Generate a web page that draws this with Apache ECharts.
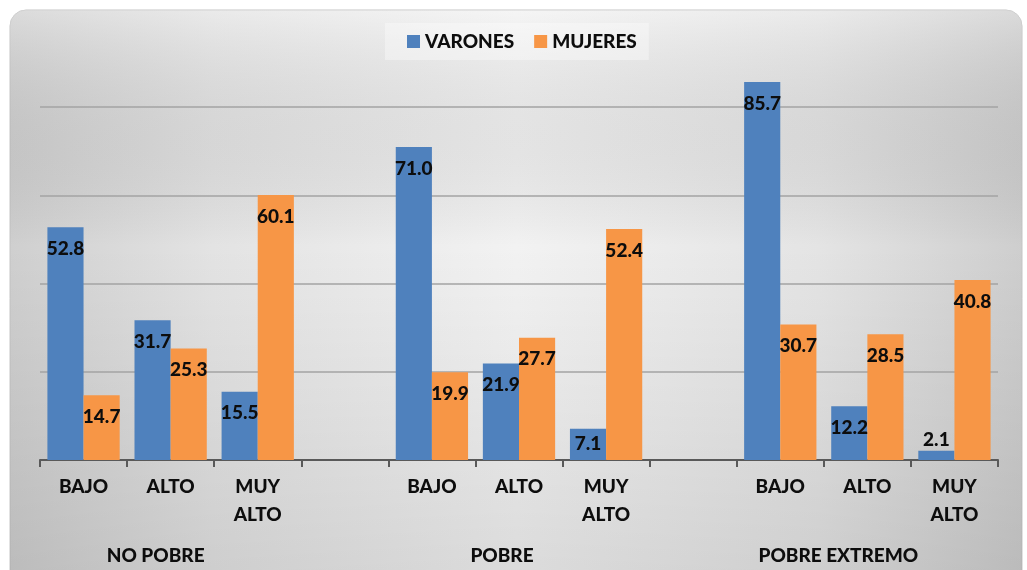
<!DOCTYPE html>
<html>
<head>
<meta charset="utf-8">
<script src="https://cdn.jsdelivr.net/npm/echarts@6/dist/echarts.min.js"></script>
<style>
  html, body { margin: 0; padding: 0; background: #fff; }
  #main { width: 1027px; height: 570px; }
</style>
</head>
<body>
<div id="main"></div>
<script>
// niveles por categoria (con huecos entre grupos)
var categorias = ['BAJO', 'ALTO', 'MUY\nALTO', '', 'BAJO', 'ALTO', 'MUY\nALTO', '', 'BAJO', 'ALTO', 'MUY\nALTO'];
var grupos = ['', 'NO POBRE', '', '', '', 'POBRE', '', '', '', 'POBRE EXTREMO', ''];
var varones = [52.8, 31.7, 15.5, null, 71.0, 21.9, 7.1, null, 85.7, 12.2, 2.1];
var mujeres = [14.7, 25.3, 60.1, null, 19.9, 27.7, 52.4, null, 30.7, 28.5, 40.8];

var FONT = 'Lato';
var azul = '#4F81BD';
var naranja = '#F79646';

// etiqueta dentro de la barra, salvo barras muy cortas
var build_data = function(arr) {
    return arr.map(function(v) {
        if (v == null) return null;
        let lbl = { position: 'insideTop' };
        if (v < 3) lbl = { position: 'top', distance: 1 };
        else if (v < 10) lbl = { position: 'inside' };
        return { value: v, label: lbl };
    });
}

var grupo_labels = grupos.map(function(g, i) {
    // desplazamiento hacia la izquierda como en el original
    let pad = [0, 0, 0, 0];
    if (i == 1) pad = [0, 30, 0, 0];
    if (i == 5) pad = [0, 34, 0, 0];
    if (i == 9) pad = [0, 58, 0, 0];
    return { value: g, textStyle: { padding: pad } };
});

var myChart = echarts.init(document.getElementById('main'));

var labelStyle = {
    show: true,
    distance: 12,
    color: '#0d0d0d',
    fontFamily: FONT,
    fontWeight: 900,
    fontSize: 19,
    formatter: function(p) { return p.value.toFixed(1); }
};

option = {
    animation: false,
    graphic: [{
        type: 'rect',
        z: -10,
        shape: { x: 10, y: 10, width: 1012, height: 590, r: 16 },
        style: {
            fill: {
                type: 'linear', x: 0, y: 0, x2: 1, y2: 0,
                colorStops: [
                    { offset: 0, color: '#cfcfcf' },
                    { offset: 0.2, color: '#e3e3e3' },
                    { offset: 0.5, color: '#f2f2f2' },
                    { offset: 0.8, color: '#e4e4e4' },
                    { offset: 1, color: '#cecece' }
                ]
            },
            stroke: '#c4c4c4',
            lineWidth: 1
        }
    }, {
        type: 'rect',
        z: -9,
        shape: { x: 10, y: 10, width: 1012, height: 590, r: 16 },
        style: {
            fill: {
                type: 'linear', x: 0, y: 0, x2: 0, y2: 1,
                colorStops: [
                    { offset: 0, color: 'rgba(255,255,255,0.25)' },
                    { offset: 0.4, color: 'rgba(0,0,0,0)' },
                    { offset: 1, color: 'rgba(0,0,0,0.1)' }
                ]
            }
        }
    }],
    legend: {
        data: ['VARONES', 'MUJERES'],
        left: 385,
        top: 23,
        padding: [9, 12, 9, 22],
        backgroundColor: 'rgba(255,255,255,0.35)',
        itemWidth: 13,
        itemHeight: 13,
        itemGap: 20,
        icon: 'rect',
        textStyle: { fontFamily: FONT, fontWeight: 900, fontSize: 19, color: '#0d0d0d' }
    },
    grid: { left: 40, right: 29, top: 19, bottom: 108 },
    xAxis: [{
        type: 'category',
        data: categorias,
        axisLine: { lineStyle: { color: '#595959', width: 2 } },
        axisTick: { show: true, interval: 0, length: 7, lineStyle: { color: '#595959', width: 2 } },
        axisLabel: {
            interval: 0, margin: 13, lineHeight: 28,
            fontFamily: FONT, fontWeight: 900, fontSize: 19, color: '#0d0d0d'
        }
    }, {
        type: 'category',
        position: 'bottom',
        data: grupo_labels,
        axisLine: { show: false },
        axisTick: { show: false },
        axisLabel: {
            interval: 0, margin: 82, lineHeight: 28,
            fontFamily: FONT, fontWeight: 900, fontSize: 19, color: '#0d0d0d'
        }
    }],
    yAxis: {
        type: 'value',
        min: 0,
        max: 100,
        interval: 20,
        axisLabel: { show: false },
        axisLine: { show: false },
        axisTick: { show: false },
        splitLine: { showMinLine: false, showMaxLine: false, lineStyle: { color: '#a3a3a3', width: 1.5 } }
    },
    series: [{
        name: 'VARONES',
        type: 'bar',
        data: build_data(varones),
        itemStyle: { color: azul },
        barGap: '0%',
        barCategoryGap: '17%',
        label: labelStyle
    }, {
        name: 'MUJERES',
        type: 'bar',
        data: build_data(mujeres),
        itemStyle: { color: naranja },
        barGap: '0%',
        barCategoryGap: '17%',
        label: labelStyle
    }]
};

myChart.setOption(option);
</script>
</body>
</html>
